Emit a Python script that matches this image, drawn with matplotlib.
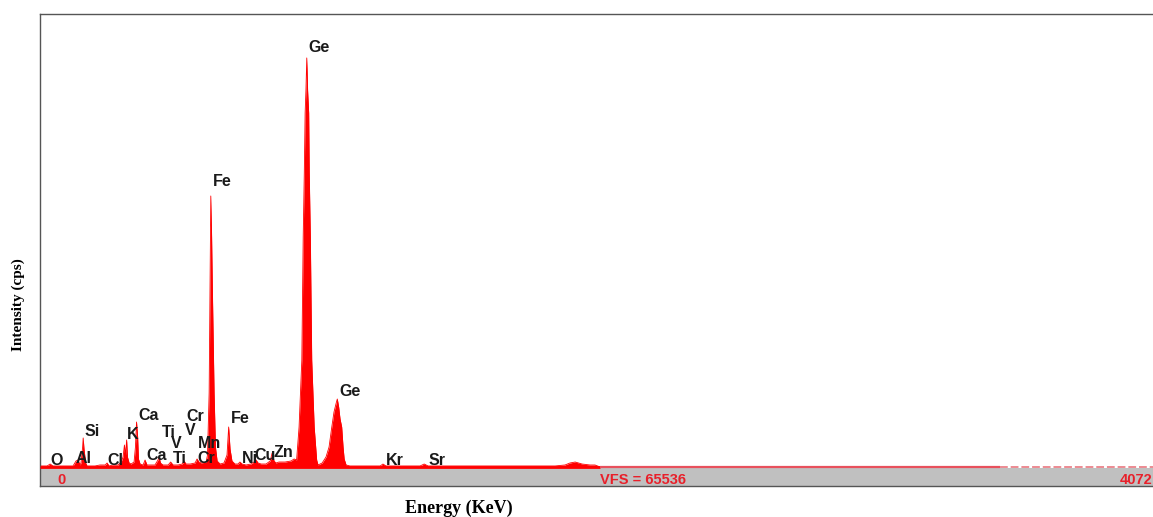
import matplotlib
matplotlib.use("Agg")
import matplotlib.pyplot as plt

# ---- spectrum trace (energy in keV, intensity in cps) ----
energy_kev = [0.18, 0.44, 0.55, 0.65, 0.91, 1.38, 1.49, 1.56, 1.64, 1.67, 1.73, 1.75, 1.78, 1.84, 1.89,
              2.18, 2.36, 2.55, 2.62, 2.69, 2.84, 3.02, 3.13, 3.20, 3.25, 3.29, 3.33, 3.36, 3.42, 3.49,
              3.60, 3.65, 3.69, 3.73, 3.76, 3.82, 3.93, 4.00, 4.07, 4.18, 4.36, 4.47, 4.51, 4.56, 4.65,
              4.84, 4.93, 5.02, 5.20, 5.35, 5.42, 5.49, 5.64, 5.82, 5.89, 5.96, 6.04,
              6.22, 6.27, 6.33, 6.36, 6.39, 6.42, 6.45, 6.51, 6.56, 6.62,
              6.73, 6.87, 6.98, 7.04, 7.09, 7.16, 7.27,
              7.38, 7.45, 7.53, 7.67, 7.85, 7.96, 8.04, 8.11, 8.22, 8.40, 8.55, 8.62, 8.69, 8.76,
              8.87, 9.09, 9.31,
              9.42, 9.51, 9.60, 9.70, 9.75, 9.79, 9.82, 9.85, 9.88, 9.91, 9.95, 9.97, 10.01, 10.06,
              10.15, 10.24, 10.29,
              10.44, 10.58, 10.69, 10.79, 10.87, 10.95, 10.99, 11.04, 11.09, 11.15, 11.20, 11.24,
              11.31, 11.45,
              12.55, 12.65, 12.76, 14.00, 14.15, 14.29,
              18.91, 19.27, 19.45, 19.64, 19.89, 20.18, 20.36, 20.55]
intensity_cps = [150, 150, 430, 150, 150, 150, 870, 1010, 290, 580, 2890, 4200, 2600, 580, 150,
                 150, 290, 290, 580, 150, 290, 290, 720, 1450, 3180, 1740, 3910, 1450, 580, 430,
                 720, 2890, 6510, 4340, 1160, 430, 290, 1010, 290, 290, 290, 1010, 1450, 580, 290,
                 290, 720, 290, 290, 430, 870, 430, 430, 580, 1160, 720, 580,
                 720, 1740, 10710, 25180, 39210, 33280, 25180, 10710, 2890, 870,
                 430, 580, 1740, 5790, 2600, 870, 430,
                 430, 720, 430, 290, 430, 720, 1010, 580, 430, 430, 870, 2030, 870, 580,
                 720, 720, 870,
                 1160, 1010, 5790, 15480, 33280, 42540, 51220, 54550, 59180, 54550, 51220, 42540, 33280, 15480,
                 5790, 1010, 290,
                 580, 1450, 2890, 5790, 7960, 9260, 9840, 8680, 6950, 5790, 2890, 1160,
                 290, 150,
                 150, 430, 150, 150, 430, 150,
                 150, 290, 580, 720, 430, 290, 290, 0]

X_RANGE = (0.18, 40.65)        # keV shown (channels 0 .. 4072)
FULL_SCALE = 65536             # VFS

# element labels: text, energy (keV), intensity (cps) where the label sits
label_text = ["O", "Al", "Si", "Cl", "K", "Ca", "Ca", "Ti", "V", "Ti", "Cr", "V", "Mn", "Cr",
              "Fe", "Fe", "Ni", "Cu", "Zn", "Ge", "Ge", "Kr", "Sr"]
label_kev = [0.79, 1.75, 2.06, 2.91, 3.55, 4.12, 4.43, 4.85, 5.15, 5.27, 5.82, 5.64, 6.36, 6.24,
             6.80, 7.45, 7.82, 8.36, 9.02, 10.33, 11.45, 13.09, 14.62]
label_cps = [1010, 1300, 5110, 910, 4630, 7520, 1640, 4920, 3470, 1300, 7280, 5250, 3470, 1300,
             41240, 6950, 1300, 1640, 2030, 60630, 10900, 1010, 1010]

W, H = 1153, 517
fig = plt.figure(figsize=(W / 100, H / 100), dpi=100)
ax = fig.add_axes([40 / W, (517 - 486) / H, (1153 - 40) / W, (486 - 14) / H])

ymin = -2750
ax.set_xlim(*X_RANGE)
ax.set_ylim(ymin, FULL_SCALE)

red = "#ff0000"
ax.axhspan(ymin, -120, color="#c0c0c0", zorder=0, lw=0)
ax.fill_between(energy_kev, intensity_cps, 0, color=red, lw=0, zorder=2)
ax.plot(energy_kev, intensity_cps, color=red, lw=0.6, zorder=2)
# baseline
ax.plot([X_RANGE[0], 20.55], [0, 0], color=red, lw=2.0, zorder=3, solid_capstyle="butt")
ax.plot([20.55, 35.1], [0, 0], color="#e8505c", lw=1.6, zorder=3, solid_capstyle="butt")
ax.plot([35.1, X_RANGE[1]], [0, 0], color="#ec8a92", lw=1.4, zorder=3, ls=(0, (4, 1.5)))

for t, x, y in zip(label_text, label_kev, label_cps):
    ax.text(x, y, t, ha="center", va="center", fontsize=11.5, fontweight="bold",
            family="Liberation Sans", color="#1a1a1a", zorder=4)

# gray bar annotations
tfont = dict(fontsize=10.5, fontweight="bold", color="#e8202a", family="Liberation Sans",
             va="center", zorder=4)
ax.text(0.0195, 0.0135, "0", transform=ax.transAxes, ha="center", **tfont)
ax.text(0.542, 0.0135, "VFS = 65536", transform=ax.transAxes, ha="center", **tfont)
ax.text(0.9995, 0.0135, "4072", transform=ax.transAxes, ha="right", **tfont)

ax.set_xticks([])
ax.set_yticks([])
for s in ["left", "top", "bottom"]:
    ax.spines[s].set_color("#555555")
    ax.spines[s].set_linewidth(1.0)
ax.spines["right"].set_visible(False)

fig.text(18 / W, 1 - 305 / H, "Intensity (cps)", rotation=90, ha="center", va="center",
         family="Liberation Serif", fontweight="bold", fontsize=11)
fig.text(459 / W, 1 - 508 / H, "Energy (KeV)", ha="center", va="center",
         family="Liberation Serif", fontweight="bold", fontsize=13)

fig.savefig("out.png", dpi=100)
